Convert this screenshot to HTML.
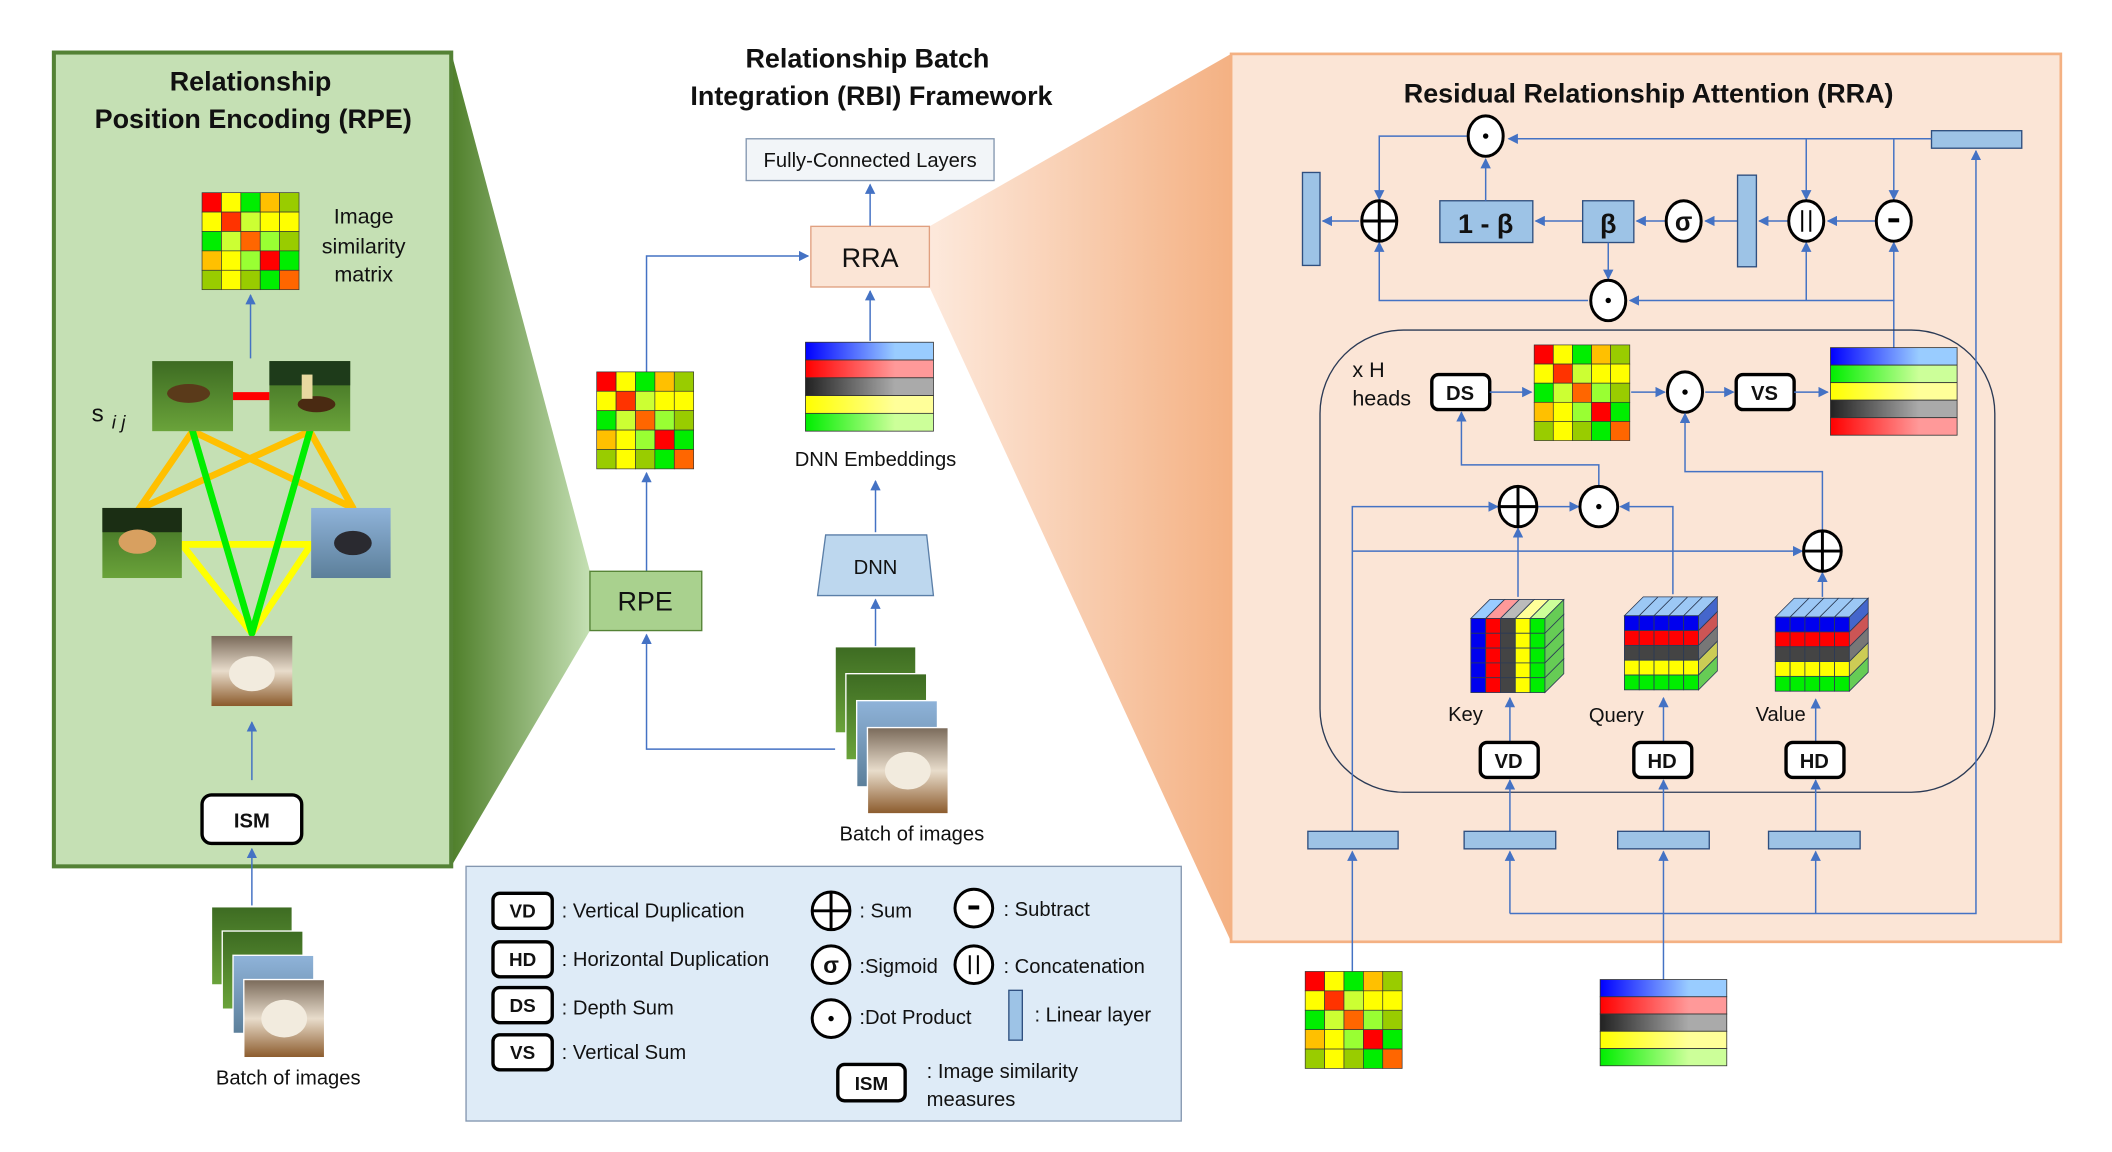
<!DOCTYPE html>
<html><head><meta charset="utf-8"><style>
html,body{margin:0;padding:0;background:#fff;width:2112px;height:1152px;overflow:hidden}
svg{display:block}
text{font-family:"Liberation Sans",sans-serif;fill:#111}
.b{font-weight:bold}
.ln{stroke:#4472c4;stroke-width:1.1;fill:none}
.op{fill:#fff;stroke:#000;stroke-width:2.2}
.lb{fill:#9dc3e6;stroke:#2f4f7f;stroke-width:1}
.bx{fill:#fff;stroke:#000;stroke-width:2.5}
</style></head><body>
<svg id="s" width="2112" height="1152" viewBox="0 0 1568 855" preserveAspectRatio="none" xmlns="http://www.w3.org/2000/svg">
<defs>
<marker id="a" viewBox="0 0 10 10" refX="9" refY="5" markerWidth="7" markerHeight="7" orient="auto"><path d="M0,0L10,5L0,10z" fill="#4472c4"/></marker>
<linearGradient id="gg" x1="0" x2="1"><stop offset="0" stop-color="#4f7f2a"/><stop offset="1" stop-color="#c5e0b4"/></linearGradient>
<linearGradient id="og" x1="1" x2="0"><stop offset="0" stop-color="#f4b183"/><stop offset="1" stop-color="#fde9dc"/></linearGradient>
<linearGradient id="eb" x1="0" x2="1"><stop offset="0" stop-color="#0000ff"/><stop offset="0.7" stop-color="#99ccff"/></linearGradient>
<linearGradient id="er" x1="0" x2="1"><stop offset="0" stop-color="#ff0000"/><stop offset="0.7" stop-color="#ff9999"/></linearGradient>
<linearGradient id="ek" x1="0" x2="1"><stop offset="0" stop-color="#222"/><stop offset="0.7" stop-color="#aaa"/></linearGradient>
<linearGradient id="ey" x1="0" x2="1"><stop offset="0" stop-color="#ffff00"/><stop offset="0.7" stop-color="#ffff99"/></linearGradient>
<linearGradient id="en" x1="0" x2="1"><stop offset="0" stop-color="#00ee00"/><stop offset="0.7" stop-color="#ccff99"/></linearGradient>
<linearGradient id="grass" x1="0" y1="0" x2="0" y2="1"><stop offset="0" stop-color="#3d6b22"/><stop offset="1" stop-color="#6aa33a"/></linearGradient>
<linearGradient id="sky" x1="0" y1="0" x2="0" y2="1"><stop offset="0" stop-color="#8fb3d9"/><stop offset="1" stop-color="#5c7f9a"/></linearGradient>
<linearGradient id="pood" x1="0" y1="0" x2="0" y2="1"><stop offset="0" stop-color="#7a6a5a"/><stop offset="0.5" stop-color="#e8dccb"/><stop offset="1" stop-color="#8b5a2b"/></linearGradient>
</defs>

<polygon points="335,39 438,424 438,468 335,643" fill="url(#gg)"/>
<polygon points="690,168 914,40 914,699 690,213" fill="url(#og)"/>

<rect x="40" y="39" width="295" height="604" fill="#c5e0b4" stroke="#548235" stroke-width="3"/>
<text x="186" y="67" font-size="20" class="b" text-anchor="middle">Relationship</text>
<text x="188" y="95" font-size="20" class="b" text-anchor="middle">Position Encoding (RPE)</text>
<g id="m1"></g>
<text x="270" y="166" font-size="16" text-anchor="middle">Image</text>
<text x="270" y="188" font-size="16" text-anchor="middle">similarity</text>
<text x="270" y="209" font-size="16" text-anchor="middle">matrix</text>
<line class="ln" x1="186" y1="266" x2="186" y2="219" marker-end="url(#a)"/>
<text x="68" y="313" font-size="18" font-family="Liberation Serif">s</text>
<text x="83" y="318" font-size="14" font-style="italic" font-family="Liberation Serif">i j</text>
<g stroke-width="5" stroke-linecap="round">
<line x1="143" y1="320" x2="103" y2="378" stroke="#ffc000"/>
<line x1="143" y1="320" x2="262" y2="377" stroke="#ffc000"/>
<line x1="230" y1="320" x2="103" y2="378" stroke="#ffc000"/>
<line x1="230" y1="320" x2="262" y2="377" stroke="#ffc000"/>
<line x1="135" y1="404" x2="231" y2="404" stroke="#ffff00"/>
<line x1="135" y1="404" x2="187" y2="470" stroke="#ffff00"/>
<line x1="231" y1="404" x2="187" y2="470" stroke="#ffff00"/>
<line x1="143" y1="320" x2="187" y2="470" stroke="#00ee00"/>
<line x1="230" y1="320" x2="187" y2="470" stroke="#00ee00"/>
</g>
<line x1="173" y1="294" x2="200" y2="294" stroke="#ff0000" stroke-width="6"/>
<rect x="113" y="268" width="60" height="52" fill="url(#grass)"/><ellipse cx="140" cy="292" rx="16" ry="7" fill="#5a3a1a"/>
<rect x="200" y="268" width="60" height="52" fill="url(#grass)"/><rect x="200" y="268" width="60" height="18" fill="#1e3b1a"/><ellipse cx="235" cy="300" rx="14" ry="6" fill="#4a2a12"/><rect x="224" y="278" width="8" height="18" fill="#e8d9a0"/>
<rect x="76" y="377" width="59" height="52" fill="url(#grass)"/><rect x="76" y="377" width="59" height="18" fill="#1b2e14"/><ellipse cx="102" cy="402" rx="14" ry="9" fill="#d8a060"/>
<rect x="231" y="377" width="59" height="52" fill="url(#sky)"/><ellipse cx="262" cy="403" rx="14" ry="9" fill="#2a2a30"/>
<rect x="157" y="472" width="60" height="52" fill="url(#pood)"/><ellipse cx="187" cy="500" rx="17" ry="13" fill="#f2ebde"/>
<line class="ln" x1="187" y1="579" x2="187" y2="536" marker-end="url(#a)"/>
<rect x="150" y="590" width="74" height="36" rx="7" class="bx"/>
<text x="187" y="614" font-size="15" class="b" text-anchor="middle">ISM</text>
<line class="ln" x1="187" y1="672" x2="187" y2="630" marker-end="url(#a)"/>
<g id="st1"></g>
<text x="214" y="805" font-size="15" text-anchor="middle">Batch of images</text>

<text x="644" y="50" font-size="20" class="b" text-anchor="middle">Relationship Batch</text>
<text x="647" y="78" font-size="20" class="b" text-anchor="middle">Integration (RBI) Framework</text>
<rect x="554" y="103" width="184" height="31" fill="#f2f5f8" stroke="#8497b0"/>
<text x="646" y="124" font-size="15" text-anchor="middle">Fully-Connected Layers</text>
<line class="ln" x1="646" y1="168" x2="646" y2="137" marker-end="url(#a)"/>
<rect x="602" y="168" width="88" height="45" fill="#fbe5d6" stroke="#e0a080"/>
<text x="646" y="198" font-size="20" text-anchor="middle">RRA</text>
<polyline class="ln" points="480,276 480,190 600,190" marker-end="url(#a)"/>
<g id="m2"></g>
<line class="ln" x1="480" y1="424" x2="480" y2="351" marker-end="url(#a)"/>
<rect x="438" y="424" width="83" height="44" fill="#a9d18e" stroke="#548235"/>
<text x="479" y="453" font-size="20" text-anchor="middle">RPE</text>
<polyline class="ln" points="620,556 480,556 480,471" marker-end="url(#a)"/>
<g id="e1"></g>
<line class="ln" x1="646" y1="253" x2="646" y2="216" marker-end="url(#a)"/>
<text x="650" y="346" font-size="15" text-anchor="middle">DNN Embeddings</text>
<line class="ln" x1="650" y1="395" x2="650" y2="357" marker-end="url(#a)"/>
<polygon points="613,397 688,397 693,442 607,442" fill="#bdd7ee" stroke="#5b7fa8"/>
<text x="650" y="426" font-size="15" text-anchor="middle">DNN</text>
<line class="ln" x1="650" y1="480" x2="650" y2="445" marker-end="url(#a)"/>
<g id="st2"></g>
<text x="677" y="624" font-size="15" text-anchor="middle">Batch of images</text>

<rect x="346" y="643" width="531" height="189" fill="#deebf7" stroke="#8497b0"/>
<g font-size="15">
<rect x="366" y="663" width="44" height="26" rx="5" class="bx" stroke-width="2"/><text x="388" y="681" text-anchor="middle" class="b" font-size="14">VD</text><text x="417" y="681">: Vertical Duplication</text>
<rect x="366" y="699" width="44" height="26" rx="5" class="bx" stroke-width="2"/><text x="388" y="717" text-anchor="middle" class="b" font-size="14">HD</text><text x="417" y="717">: Horizontal Duplication</text>
<rect x="366" y="733" width="44" height="26" rx="5" class="bx" stroke-width="2"/><text x="388" y="751" text-anchor="middle" class="b" font-size="14">DS</text><text x="417" y="753">: Depth Sum</text>
<rect x="366" y="768" width="44" height="26" rx="5" class="bx" stroke-width="2"/><text x="388" y="786" text-anchor="middle" class="b" font-size="14">VS</text><text x="417" y="786">: Vertical Sum</text>
<circle cx="617" cy="676" r="14" class="op"/><line x1="603" y1="676" x2="631" y2="676" stroke="#000" stroke-width="2.2"/><line x1="617" y1="662" x2="617" y2="690" stroke="#000" stroke-width="2.2"/><text x="638" y="681">: Sum</text>
<circle cx="617" cy="716" r="14" class="op"/><text x="617" y="722" text-anchor="middle" class="b" font-size="17">σ</text><text x="638" y="722">:Sigmoid</text>
<circle cx="617" cy="756" r="14" class="op"/><circle cx="617" cy="756" r="2" fill="#000"/><text x="638" y="760">:Dot Product</text>
<circle cx="723" cy="674" r="14" class="op"/><rect x="719" y="672" width="8" height="3" fill="#000"/><text x="745" y="680">: Subtract</text>
<circle cx="723" cy="716" r="14" class="op"/><line x1="720" y1="709" x2="720" y2="723" stroke="#000" stroke-width="1.5"/><line x1="726" y1="709" x2="726" y2="723" stroke="#000" stroke-width="1.5"/><text x="745" y="722">: Concatenation</text>
<rect x="749" y="735" width="10" height="37" class="lb"/><text x="768" y="758">: Linear layer</text>
<rect x="622" y="790" width="50" height="27" rx="5" class="bx" stroke-width="2"/><text x="647" y="809" text-anchor="middle" class="b" font-size="14">ISM</text>
<text x="688" y="800">: Image similarity</text><text x="688" y="821">measures</text>
</g>

<rect x="914" y="40" width="616" height="659" fill="#fbe5d6" stroke="#f4b183" stroke-width="2"/>
<text x="1224" y="76" font-size="20" class="b" text-anchor="middle">Residual Relationship Attention (RRA)</text>
<rect x="1434" y="97" width="67" height="13" class="lb"/>
<polyline class="ln" points="1434,103 1120,103" marker-end="url(#a)"/>
<line class="ln" x1="1341" y1="103" x2="1341" y2="148" marker-end="url(#a)"/>
<line class="ln" x1="1406" y1="103" x2="1406" y2="148" marker-end="url(#a)"/>
<polyline class="ln" points="1089,101 1024,101 1024,148" marker-end="url(#a)"/>
<rect x="967" y="128" width="13" height="69" class="lb"/>
<line class="ln" x1="1009" y1="164" x2="982" y2="164" marker-end="url(#a)"/>
<rect x="1069" y="149" width="69" height="31" class="lb"/>
<text x="1103" y="173" font-size="20" class="b" text-anchor="middle">1 - β</text>
<line class="ln" x1="1103" y1="149" x2="1103" y2="118" marker-end="url(#a)"/>
<line class="ln" x1="1175" y1="164" x2="1140" y2="164" marker-end="url(#a)"/>
<rect x="1175" y="149" width="38" height="31" class="lb"/>
<text x="1194" y="173" font-size="20" class="b" text-anchor="middle">β</text>
<line class="ln" x1="1194" y1="180" x2="1194" y2="207" marker-end="url(#a)"/>
<line class="ln" x1="1236" y1="164" x2="1215" y2="164" marker-end="url(#a)"/>
<line class="ln" x1="1290" y1="164" x2="1266" y2="164" marker-end="url(#a)"/>
<rect x="1290" y="130" width="14" height="68" class="lb"/>
<line class="ln" x1="1327" y1="164" x2="1306" y2="164" marker-end="url(#a)"/>
<line class="ln" x1="1392" y1="164" x2="1357" y2="164" marker-end="url(#a)"/>
<polyline class="ln" points="1406,258 1406,223 1210,223" marker-end="url(#a)"/>
<line class="ln" x1="1406" y1="223" x2="1406" y2="180" marker-end="url(#a)"/>
<polyline class="ln" points="1341,223 1341,180" marker-end="url(#a)"/>
<polyline class="ln" points="1179,223 1024,223 1024,180" marker-end="url(#a)"/>
<ellipse cx="1103" cy="101" rx="13" ry="15" class="op"/><circle cx="1103" cy="101" r="2" fill="#000"/>
<ellipse cx="1024" cy="164" rx="13" ry="15" class="op"/><line x1="1011" y1="164" x2="1037" y2="164" stroke="#000" stroke-width="2.2"/><line x1="1024" y1="149" x2="1024" y2="179" stroke="#000" stroke-width="2.2"/>
<ellipse cx="1250" cy="164" rx="13" ry="15" class="op"/><text x="1250" y="171" font-size="19" class="b" text-anchor="middle">σ</text>
<ellipse cx="1341" cy="164" rx="13" ry="15" class="op"/><line x1="1338" y1="156" x2="1338" y2="172" stroke="#000" stroke-width="1.5"/><line x1="1344" y1="156" x2="1344" y2="172" stroke="#000" stroke-width="1.5"/>
<ellipse cx="1406" cy="164" rx="13" ry="15" class="op"/><rect x="1402" y="162" width="8" height="3" fill="#000"/>
<ellipse cx="1194" cy="223" rx="13" ry="15" class="op"/><circle cx="1194" cy="223" r="2" fill="#000"/>

<rect x="980" y="245" width="501" height="343" rx="62" fill="none" stroke="#2b3a55" stroke-width="1"/>
<text x="1004" y="280" font-size="16" font-family="Liberation Serif">x H</text>
<text x="1004" y="301" font-size="16">heads</text>
<rect x="1063" y="278" width="43" height="26" rx="5" class="bx"/><text x="1084" y="297" font-size="15" class="b" text-anchor="middle">DS</text>
<line class="ln" x1="1106" y1="291" x2="1137" y2="291" marker-end="url(#a)"/>
<g id="m3"></g>
<line class="ln" x1="1211" y1="291" x2="1236" y2="291" marker-end="url(#a)"/>
<ellipse cx="1251" cy="291" rx="13" ry="15" class="op"/><circle cx="1251" cy="291" r="2" fill="#000"/>
<line class="ln" x1="1266" y1="291" x2="1287" y2="291" marker-end="url(#a)"/>
<rect x="1289" y="278" width="43" height="26" rx="5" class="bx"/><text x="1310" y="297" font-size="15" class="b" text-anchor="middle">VS</text>
<line class="ln" x1="1332" y1="291" x2="1357" y2="291" marker-end="url(#a)"/>
<g id="e2"></g>
<polyline class="ln" points="1187,361 1187,345 1085,345 1085,306" marker-end="url(#a)"/>
<polyline class="ln" points="1353,394 1353,350 1251,350 1251,307" marker-end="url(#a)"/>
<polyline class="ln" points="1004,617 1004,376 1112,376" marker-end="url(#a)"/>
<line class="ln" x1="1004" y1="409" x2="1338" y2="409" marker-end="url(#a)"/>
<line class="ln" x1="1142" y1="376" x2="1172" y2="376" marker-end="url(#a)"/>
<polyline class="ln" points="1242,441 1242,376 1203,376" marker-end="url(#a)"/>
<line class="ln" x1="1127" y1="443" x2="1127" y2="392" marker-end="url(#a)"/>
<line class="ln" x1="1353" y1="443" x2="1353" y2="425" marker-end="url(#a)"/>
<ellipse cx="1127" cy="376" rx="14" ry="15" class="op"/><line x1="1113" y1="376" x2="1141" y2="376" stroke="#000" stroke-width="2.2"/><line x1="1127" y1="361" x2="1127" y2="391" stroke="#000" stroke-width="2.2"/>
<ellipse cx="1187" cy="376" rx="14" ry="15" class="op"/><circle cx="1187" cy="376" r="2" fill="#000"/>
<ellipse cx="1353" cy="409" rx="14" ry="15" class="op"/><line x1="1339" y1="409" x2="1367" y2="409" stroke="#000" stroke-width="2.2"/><line x1="1353" y1="394" x2="1353" y2="424" stroke="#000" stroke-width="2.2"/>
<g id="cubes"></g>
<text x="1088" y="535" font-size="15" text-anchor="middle">Key</text>
<text x="1200" y="536" font-size="15" text-anchor="middle">Query</text>
<text x="1322" y="535" font-size="15" text-anchor="middle">Value</text>
<line class="ln" x1="1121" y1="551" x2="1121" y2="518" marker-end="url(#a)"/>
<line class="ln" x1="1235" y1="551" x2="1235" y2="518" marker-end="url(#a)"/>
<line class="ln" x1="1348" y1="551" x2="1348" y2="519" marker-end="url(#a)"/>
<rect x="1099" y="551" width="43" height="26" rx="5" class="bx"/><text x="1120" y="570" font-size="15" class="b" text-anchor="middle">VD</text>
<rect x="1213" y="551" width="43" height="26" rx="5" class="bx"/><text x="1234" y="570" font-size="15" class="b" text-anchor="middle">HD</text>
<rect x="1326" y="551" width="43" height="26" rx="5" class="bx"/><text x="1347" y="570" font-size="15" class="b" text-anchor="middle">HD</text>
<line class="ln" x1="1121" y1="617" x2="1121" y2="579" marker-end="url(#a)"/>
<line class="ln" x1="1235" y1="617" x2="1235" y2="579" marker-end="url(#a)"/>
<line class="ln" x1="1348" y1="617" x2="1348" y2="579" marker-end="url(#a)"/>
<rect x="971" y="617" width="67" height="13" class="lb"/>
<rect x="1087" y="617" width="68" height="13" class="lb"/>
<rect x="1201" y="617" width="68" height="13" class="lb"/>
<rect x="1313" y="617" width="68" height="13" class="lb"/>
<polyline class="ln" points="1121,678 1467,678 1467,112" marker-end="url(#a)"/>
<line class="ln" x1="1121" y1="678" x2="1121" y2="632" marker-end="url(#a)"/>
<line class="ln" x1="1348" y1="678" x2="1348" y2="632" marker-end="url(#a)"/>
<line class="ln" x1="1235" y1="727" x2="1235" y2="632" marker-end="url(#a)"/>
<line class="ln" x1="1004" y1="721" x2="1004" y2="632" marker-end="url(#a)"/>
<g id="m4"></g>
<g id="e3"></g>
</svg>
<script>
var NS="http://www.w3.org/2000/svg";
function el(p,t,a){var e=document.createElementNS(NS,t);for(var k in a)e.setAttribute(k,a[k]);p.appendChild(e);return e;}
var C=[["#ff0000","#ffff00","#00ee00","#ffc000","#99cc00"],["#ffff00","#ff3300","#ccff33","#ffff00","#ffff00"],["#00ee00","#ccff33","#ff6600","#99ff33","#99cc00"],["#ffc000","#ffff00","#99ff33","#ff0000","#00ee00"],["#99cc00","#ffff00","#99cc00","#00ee00","#ff6600"]];
function mat(id,x,y,w,h){var g=document.getElementById(id),cw=w/5,ch=h/5;for(var r=0;r<5;r++)for(var c=0;c<5;c++)el(g,"rect",{x:x+c*cw,y:y+r*ch,width:cw,height:ch,fill:C[r][c],stroke:"#333","stroke-width":0.5});}
mat("m1",150,143,72,72);mat("m2",443,276,72,72);mat("m3",1139,256,71,71);mat("m4",969,721,72,72);
function emb(id,x,y,w,h,ord){var g=document.getElementById(id),bh=h/5;ord.forEach(function(o,i){el(g,"rect",{x:x,y:y+i*bh,width:w,height:bh,fill:"url(#"+o+")",stroke:"#333","stroke-width":0.6});});}
emb("e1",598,254,95,66,["eb","er","ek","ey","en"]);
emb("e2",1359,258,94,65,["eb","en","ey","ek","er"]);
emb("e3",1188,727,94,64,["eb","er","ek","ey","en"]);
function stack(id,x,y,w,h,dx,dy){var g=document.getElementById(id);var f=["url(#grass)","url(#grass)","url(#sky)","url(#pood)"];for(var i=0;i<4;i++){el(g,"rect",{x:x+i*dx,y:y+i*dy,width:w,height:h,fill:f[i],stroke:"#fff","stroke-width":1});}el(g,"ellipse",{cx:x+3*dx+w/2,cy:y+3*dy+h/2,rx:17,ry:14,fill:"#f2ebde"});}
stack("st1",157,673,60,58,8,18);stack("st2",620,480,60,64,8,20);
var col=["#0000ee","#ff0000","#444","#ffff00","#00ee00"],lite=["#99ccff","#ff9999","#bbbbbb","#ffff99","#ccff99"];
function cube(x,y,byCol){var g=document.getElementById("cubes"),s=11,d=14;
for(var i=0;i<5;i++){var xx=x+i*s;el(g,"polygon",{points:[xx,y+d,xx+s,y+d,xx+s+d,y,xx+d,y].join(" "),fill:byCol?lite[i]:"#9cc8f5",stroke:"#2b3a55","stroke-width":0.6});}
for(var r=0;r<5;r++)for(var c=0;c<5;c++)el(g,"rect",{x:x+c*s,y:y+d+r*s,width:s,height:s,fill:byCol?col[c]:col[r],stroke:"#2b3a55","stroke-width":0.6});
for(var r=0;r<5;r++){var X=x+5*s,Y=y+d+r*s;el(g,"polygon",{points:[X,Y,X+d,Y-d,X+d,Y-d+s,X,Y+s].join(" "),fill:byCol?"#66cc55":["#4466cc","#cc5555","#777","#cccc55","#66cc55"][r],stroke:"#2b3a55","stroke-width":0.6});}}
cube(1092,445,true);cube(1206,443,false);cube(1318,444,false);
</script>
</body></html>
